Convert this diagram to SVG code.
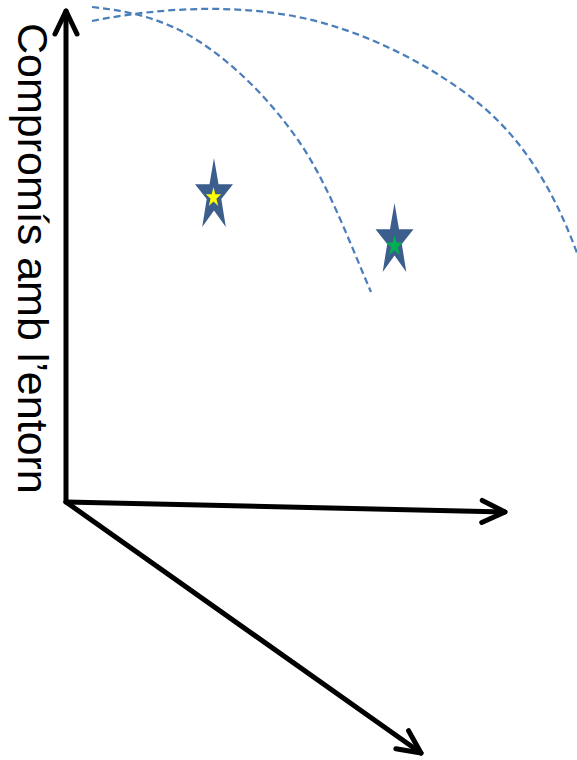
<svg xmlns="http://www.w3.org/2000/svg" width="577" height="760" viewBox="0 0 577 760">
<style>
.axis{fill:none;stroke:#000;stroke-width:5;stroke-linecap:round;marker-end:url(#head)}
.arc{fill:none;stroke:#4A7EBB;stroke-width:2.25;stroke-dasharray:7 4}
.star{fill:#3B5E8C}
.lbl{font-family:"Liberation Sans",Arial,sans-serif;font-size:43px;fill:#000}
</style>
<defs>
<marker id="head" markerUnits="userSpaceOnUse" markerWidth="60" markerHeight="60" refX="0" refY="0" viewBox="-30 -30 60 60" orient="auto" overflow="visible">
<path d="M-23,-11 L0,0 L-23,11" fill="none" stroke="#000" stroke-width="5" stroke-linecap="round" stroke-linejoin="round"/>
</marker>
</defs>
<rect width="577" height="760" fill="#fff"/>
<g id="arcs">
<path class="arc" d="M92,7 C130,11 165,19 200,42 C235,65 271.5,101 300,143 C328.5,185 349,241 371,292"/>
<path class="arc" d="M92,21 C161,7 238,4 303,18 C368,32 437,68 483,107 C529,146 557,199 577,253"/>
</g>
<g id="connectors">
<path class="axis" d="M66,502 L66,11"/>
<path class="axis" d="M66,502 L505,512"/>
<path class="axis" d="M66,502 L421,753"/>
</g>
<g id="label">
<text class="lbl" transform="translate(18,23) rotate(90)">Compromís amb l’entorn</text>
</g>
<g id="star1">
<path class="star" d="M214,158 L218.5,184.3 L233,184.3 L221.3,198.9 L225.8,227 L214,210.6 L202.2,227 L206.7,198.9 L195,184.3 L209.5,184.3 Z"/>
<path fill="#FFFF00" d="M213.5,187 L215.3,194.3 L221.1,194.3 L216.4,198.7 L218.2,206 L213.5,201.5 L208.8,206 L210.6,198.7 L205.9,194.3 L211.7,194.3 Z"/>
</g>
<g id="star2">
<path class="star" d="M394.5,203 L399,229.3 L413.5,229.3 L401.8,243.9 L406.3,272 L394.5,255.6 L382.7,272 L387.2,243.9 L375.5,229.3 L390,229.3 Z"/>
<path fill="#00B050" d="M394.5,235 L396.5,242.6 L403.1,242.6 L397.8,247.3 L399.8,254.9 L394.5,250.2 L389.2,254.9 L391.2,247.3 L385.9,242.6 L392.5,242.6 Z"/>
</g>
</svg>
